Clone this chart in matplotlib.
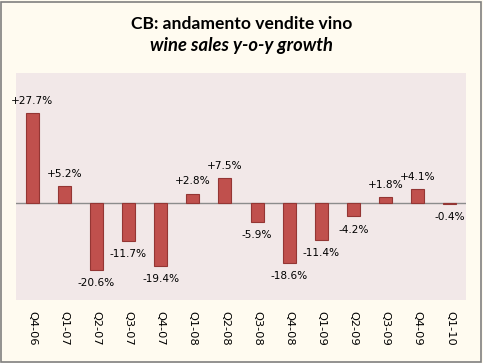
import matplotlib
matplotlib.use("Agg")
import matplotlib.pyplot as plt

quarters = ["Q4-06", "Q1-07", "Q2-07", "Q3-07", "Q4-07", "Q1-08", "Q2-08",
            "Q3-08", "Q4-08", "Q1-09", "Q2-09", "Q3-09", "Q4-09", "Q1-10"]
growth = [27.7, 5.2, -20.6, -11.7, -19.4, 2.8, 7.5,
          -5.9, -18.6, -11.4, -4.2, 1.8, 4.1, -0.4]

fig = plt.figure(figsize=(4.83, 3.63), dpi=100, facecolor="#FFFBF0")
fig.patches.append(plt.Rectangle((0.002, 0.003), 0.994, 0.992, transform=fig.transFigure,
                                 fill=False, edgecolor="#808080", linewidth=1.2))
ax = fig.add_axes([16 / 483, 1 - 300 / 363, 450 / 483, 227 / 363])
ax.set_facecolor("#F2E8E8")

x = list(range(len(quarters)))
ax.bar(x, growth, width=0.4, color="#C0504D", edgecolor="#943634", linewidth=0.8, zorder=3)
ax.axhline(0, color="#8C8C8C", linewidth=1.0, zorder=2)

for xi, v in zip(x, growth):
    label = ("+%.1f%%" % v) if v > 0 else ("%.1f%%" % v)
    if v >= 0:
        ax.text(xi, v + 2.2, label, ha="center", va="bottom", fontsize=7.6,
                family="DejaVu Sans", zorder=4)
    else:
        ax.text(xi, v - 2.6, label, ha="center", va="top", fontsize=7.6,
                family="DejaVu Sans", zorder=4)

ax.set_xlim(-0.5, 13.5)
ax.set_ylim(-30, 40)
ax.set_yticks([])
ax.set_xticks(x)
ax.set_xticklabels(quarters, rotation=-90, fontsize=8.2, family="DejaVu Sans")
ax.tick_params(axis="x", length=0, pad=8)
for s in ax.spines.values():
    s.set_visible(False)

fig.text(0.5, 1 - 24 / 363, "CB: andamento vendite vino", ha="center", va="center",
         fontsize=12.6, fontweight="bold", family="Lato")
fig.text(0.5, 1 - 45 / 363, "wine sales y-o-y growth", ha="center", va="center",
         fontsize=13.2, fontweight="bold", fontstyle="italic", family="Lato")

fig.savefig("out.png", dpi=100, facecolor=fig.get_facecolor())
